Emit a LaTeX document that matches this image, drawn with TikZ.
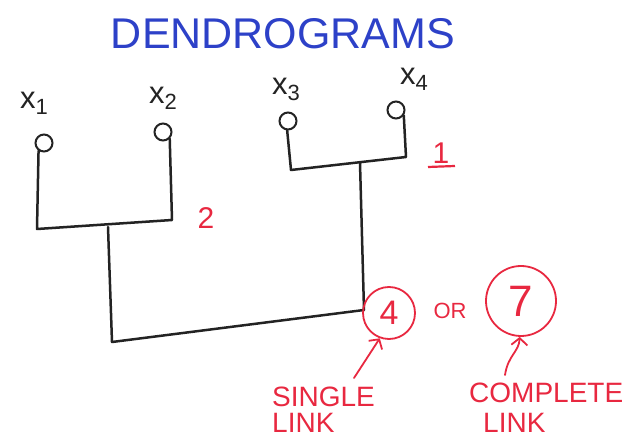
\documentclass[tikz,border=0pt]{standalone}
\usepackage{fontspec}
\setmainfont{Liberation Sans}
\usetikzlibrary{arrows.meta}
\definecolor{ink}{RGB}{35,35,35}
\definecolor{pen}{RGB}{45,65,200}
\definecolor{redpen}{RGB}{232,40,64}
\newcommand{\xlab}[1]{x\raisebox{-6pt}{\fontsize{22}{22}\selectfont #1}}
\begin{document}
\begin{tikzpicture}[x=1pt,y=-1pt,
 line/.style={draw=ink,line width=2.5pt,line join=round,line cap=round},
 leaf/.style={circle,draw=ink,line width=2pt,minimum size=17pt,inner sep=0pt},
 lbl/.style={text=ink,font=\fontsize{31}{31}\selectfont,inner sep=0pt},
 rednum/.style={text=redpen},
 ring/.style={circle,draw=redpen,line width=1.8pt,inner sep=0pt,text=redpen},
 redtxt/.style={text=redpen,font=\fontsize{28}{28}\selectfont,anchor=base west,inner sep=0pt},
 arr/.style={draw=redpen,line width=1.8pt,line cap=round,-{Straight Barb[length=7pt,width=16pt]}}]
\useasboundingbox (0,0) rectangle (640,443);
\node[text=pen,font=\fontsize{43}{43}\selectfont,inner sep=0pt] (title) at (283,34) {DENDROGRAMS};
% leaves
\node[leaf] (x1) at (44,143) {};
\node[leaf] (x2) at (163,132) {};
\node[leaf] (x3) at (288,121) {};
\node[leaf] (x4) at (396,110) {};
\node[lbl] (l1) at (34,103) {\xlab{1}};
\node[lbl] (l2) at (163,98) {\xlab{2}};
\node[lbl] (l3) at (286,89) {\xlab{3}};
\node[lbl] (l4) at (414,79) {\xlab{4}};
% merges
\coordinate (a1) at (37,229);
\coordinate (a2) at (172,220);
\coordinate (m12) at (108,227);
\coordinate (b1) at (291,170);
\coordinate (b2) at (406,157);
\coordinate (m34) at (360,163);
\coordinate (c1) at (112,342);
\coordinate (c2) at (364,310);
\draw[line] (x1.235) -- (a1) -- (a2) -- (x2.-45);
\draw[line] (x3.265) -- (b1) -- (b2) -- (x4.-35);
\draw[line] (m12) -- (c1) -- (c2) -- (m34);
% red annotations
\node[rednum,font=\fontsize{30}{30}\selectfont] (n2) at (206,218) {2};
\node[rednum,font=\fontsize{30}{30}\selectfont] (n1) at (441,153) {1};
\draw[draw=redpen,line width=2.2pt] (428,167) -- (455,166);
\node[ring,minimum size=52pt,font=\fontsize{34}{34}\selectfont] (c4) at (389,313) {4};
\node[text=redpen,font=\fontsize{22}{22}\selectfont] (or) at (450,311) {OR};
\node[ring,minimum size=70pt,font=\fontsize{44}{44}\selectfont] (c7) at (521,301) {7};
\node[redtxt] (single) at (272,407) {SINGLE};
\node[redtxt] (link1) at (272,433) {LINK};
\node[redtxt] (complete) at (469,403) {COMPLETE};
\node[redtxt] (link2) at (483,433) {LINK};
\coordinate (s1) at (354,378);
\coordinate (s2) at (505,375);
\draw[arr] (s1) -- (c4.250);
\draw[arr] (s2) .. controls (508,355) and (519,352) .. (c7.268);
\end{tikzpicture}
\end{document}
